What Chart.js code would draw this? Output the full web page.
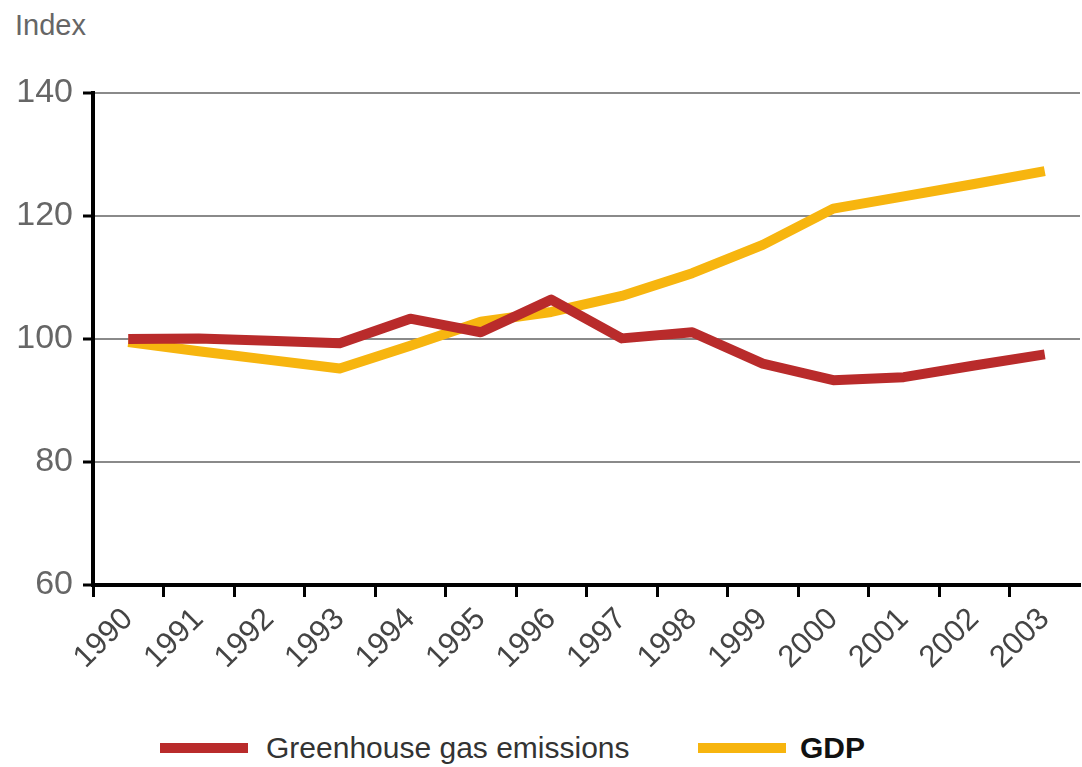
<!DOCTYPE html>
<html>
<head>
<meta charset="utf-8">
<script src="https://cdn.jsdelivr.net/npm/chart.js@4"></script>
<style>
  body { margin: 0; background: #fff; width: 1082px; height: 767px; position: relative; overflow: hidden;
         font-family: 'Liberation Sans', sans-serif; }
  #wrap { position: absolute; left: 0; top: 0; width: 1082px; height: 712px; }
  #ytitle { position: absolute; left: 15px; top: 9px; font-size: 29px; color: #666; }
  .swatch { position: absolute; top: 743px; width: 88px; height: 10px; }
  .lbl { position: absolute; top: 733px; font-size: 30px; color: #333; line-height: 30px; }
</style>
</head>
<body>
<div id="ytitle">Index</div>
<div id="wrap"><canvas id="chart"></canvas></div>
<div class="swatch" style="left:160px; background:#B92B2B"></div>
<div class="lbl" style="left:266px">Greenhouse gas emissions</div>
<div class="swatch" style="left:698px; background:#F7B50F"></div>
<div class="lbl" style="left:800px; font-weight:bold; color:#111">GDP</div>
<script>
const years = ['1990', '1991', '1992', '1993', '1994', '1995', '1996',
               '1997', '1998', '1999', '2000', '2001', '2002', '2003'];
const emissions = [100, 100.1, 99.7, 99.3, 103.3, 101.1, 106.4, 100.1, 101.1, 96, 93.3, 93.8, 95.7, 97.5];
const gdp = [99.5, 98, 96.6, 95.2, 98.9, 102.8, 104.4, 107, 110.7, 115.3, 121.2, 123.2, 125.2, 127.3];
const yTicks = [60, 80, 100, 120, 140];

const font = "'Liberation Sans', sans-serif";

new Chart(document.getElementById('chart'), {
  type: 'line',
  data: {
    labels: years,
    datasets: [
      { label: 'Greenhouse gas emissions', data: emissions, borderColor: '#B92B2B',
        borderWidth: 10, pointRadius: 0, tension: 0, borderJoinStyle: 'round' },
      { label: 'GDP', data: gdp, borderColor: '#F7B50F',
        borderWidth: 10, pointRadius: 0, tension: 0, borderJoinStyle: 'round' },
    ]
  },
  options: {
    responsive: true,
    maintainAspectRatio: false,
    animation: false,
    layout: { padding: { top: 93, right: 2, left: 0, bottom: 0 } },
    plugins: { legend: { display: false }, tooltip: { enabled: false } },
    scales: {
      x: {
        type: 'category',
        offset: true,
        afterFit: s => { s.height = 127; },
        // hide the extra boundary tick at the right end
        grid: { offset: true, drawOnChartArea: false, drawTicks: true, tickLength: 12,
                tickWidth: 3, tickColor: ctx => ctx.type === 'tick' ? '#000' : 'rgba(0,0,0,0)' },
        border: { display: true, color: '#000', width: 4 },
        ticks: { color: '#444', font: { family: font, size: 31 }, minRotation: 45, maxRotation: 45,
                 padding: 4, autoSkip: false }
      },
      y: {
        min: 60, max: 140,
        afterFit: s => { s.width = 93; },
        afterBuildTicks: s => { s.ticks = yTicks.map(v => ({ value: v })); },
        grid: { color: '#8a8a8a', lineWidth: 2, drawTicks: true, tickLength: 10, tickColor: '#000', tickWidth: 3 },
        border: { display: true, color: '#000', width: 4 },
        ticks: { color: '#666', font: { family: font, size: 34 }, padding: 10 }
      }
    }
  }
});
</script>
</body>
</html>
